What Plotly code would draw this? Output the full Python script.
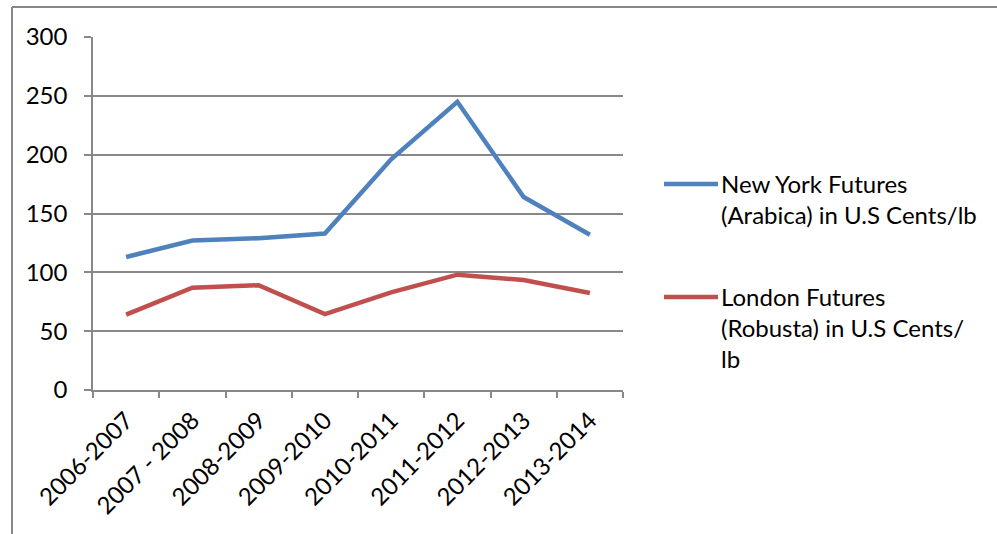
import plotly.graph_objects as go

years = ["2006-2007", "2007 - 2008", "2008-2009", "2009-2010",
         "2010-2011", "2011-2012", "2012-2013", "2013-2014"]
arabica = [113, 127, 129, 133, 196, 245, 164, 132]
robusta = [64, 87, 89, 64.5, 83, 98, 93.5, 82.5]
names = ["New York Futures<br>(Arabica) in U.S Cents/lb",
         "London Futures<br>(Robusta) in U.S Cents/<br>lb"]
colors = ["#4F81BD", "#C0504D"]

W, H = 997, 534
FONT = "Lato"
FS = 24
GRID = "#888888"

fig = go.Figure()
for vals, c in zip([arabica, robusta], colors):
    fig.add_trace(go.Scatter(x=years, y=vals, mode="lines",
                             line=dict(color=c, width=4.5), showlegend=False))

def px(x):
    return x / W

def py(y):
    return 1 - y / H

fig.update_layout(
    width=W, height=H,
    margin=dict(l=0, r=0, t=0, b=0, autoexpand=False),
    paper_bgcolor="white", plot_bgcolor="white",
    font=dict(family=FONT, size=FS, color="black"),
    xaxis=dict(domain=[px(93), px(623)], type="category", range=[-0.5, 7.5],
               tickson="boundaries", ticks="outside", ticklen=6, tickcolor=GRID,
               tickwidth=1.5, showgrid=False, showline=True, linecolor=GRID,
               linewidth=1.5, tickangle=-45, tickfont=dict(size=FS, family=FONT),
               zeroline=False, automargin=False, ticklabelstandoff=5),
    yaxis=dict(domain=[py(390), py(37)], range=[0, 300], dtick=50,
               ticks="outside", ticklen=7, tickcolor=GRID, tickwidth=1.5,
               showgrid=True, gridcolor=GRID, gridwidth=1.5,
               showline=True, linecolor=GRID, linewidth=1.5,
               zeroline=False, ticklabelstandoff=12, automargin=False,
               tickfont=dict(size=FS, family=FONT)),
)

# border of the chart frame
fig.add_shape(type="line", xref="paper", yref="paper",
              x0=px(12), y0=py(534), x1=px(12), y1=py(7),
              line=dict(color="#888888", width=2))
fig.add_shape(type="line", xref="paper", yref="paper",
              x0=px(12), y0=py(7), x1=px(997), y1=py(7),
              line=dict(color="#888888", width=2))

# legend (drawn manually)
leg_y = [184, 297]
for name, c, ly in zip(names, colors, leg_y):
    fig.add_shape(type="line", xref="paper", yref="paper",
                  x0=px(664), y0=py(ly), x1=px(718), y1=py(ly),
                  line=dict(color=c, width=4.5))
    fig.add_annotation(xref="paper", yref="paper", x=px(719), y=py(ly - 17),
                       xanchor="left", yanchor="top", align="left",
                       text=name, showarrow=False,
                       font=dict(size=FS, family=FONT, color="black"))

fig.write_html("out.html")
